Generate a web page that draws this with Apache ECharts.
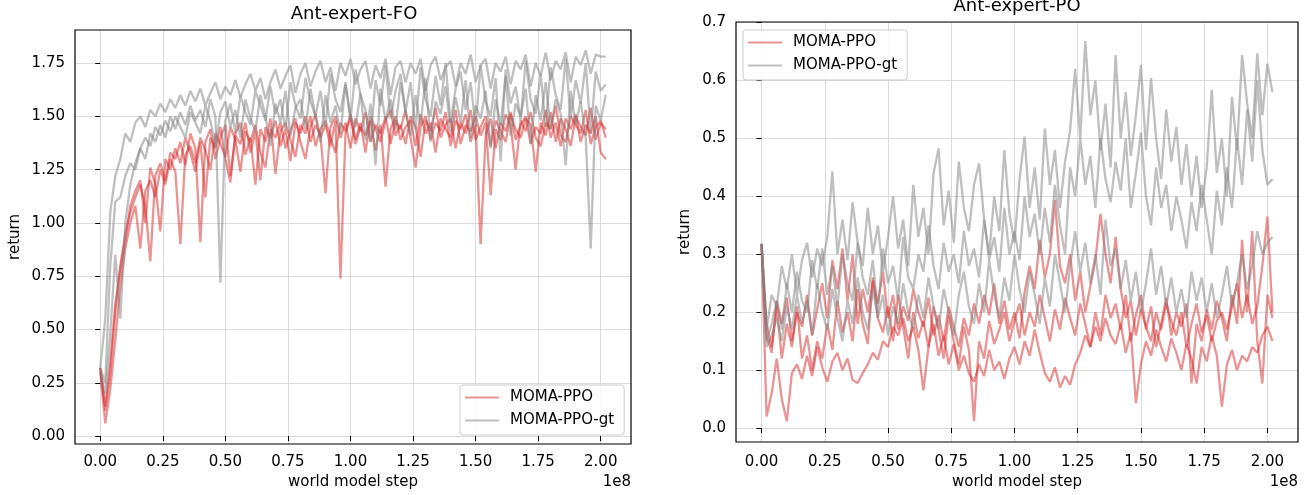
<!DOCTYPE html>
<html>
<head>
<meta charset="utf-8">
<script src="https://cdn.jsdelivr.net/npm/echarts@6/dist/echarts.min.js"></script>
<style>
html,body{margin:0;padding:0;background:#fff;}
#c{width:1309px;height:495px;}
</style>
</head>
<body>
<div id="c"></div>
<script>
// world model step, in millions
const STEPS_M = [0,2,4,6,8,10,12,14,16,18,
 20,22,24,26,28,30,32,34,36,38,
 40,42,44,46,48,50,52,54,56,58,
 60,62,64,66,68,70,72,74,76,78,
 80,82,84,86,88,90,92,94,96,98,
 100,102,104,106,108,110,112,114,116,118,
 120,122,124,126,128,130,132,134,136,138,
 140,142,144,146,148,150,152,154,156,158,
 160,162,164,166,168,170,172,174,176,178,
 180,182,184,186,188,190,192,194,196,198,
 200,202];

const X_TICKS_1E8 = [0,0.25,0.5,0.75,1,1.25,1.5,1.75,2];
const Y_TICKS_FO = [0,0.25,0.5,0.75,1,1.25,1.5,1.75];
const Y_TICKS_PO = [0,0.1,0.2,0.3,0.4,0.5,0.6,0.7];

// ---- Ant-expert-FO ----
const FO_PPO_1 = [0.32,0.12,0.30,0.58,0.80,0.95,1.05,1.12,1.18,1.08,
 0.82,1.22,1.28,1.20,1.33,1.30,1.38,1.27,1.42,1.35,
 0.91,1.38,1.44,1.30,1.40,1.46,1.22,1.41,1.37,1.47,
 1.33,1.43,1.20,1.45,1.40,1.48,1.36,1.44,1.29,1.47,
 1.42,1.50,1.38,1.46,1.41,1.14,1.45,1.50,1.40,1.47,
 1.35,1.49,1.43,1.52,1.38,1.46,1.42,1.50,1.37,1.48,
 1.44,1.53,1.40,1.26,1.45,1.50,1.39,1.47,1.43,1.52,
 1.36,1.48,1.44,1.51,1.38,1.46,0.90,1.41,1.49,1.35,
 1.47,1.43,1.52,1.39,1.46,1.50,1.37,1.45,1.42,1.53,
 1.40,1.47,1.36,1.49,1.44,1.51,1.38,1.46,1.42,1.50,
 1.33,1.30];
const FO_PPO_2 = [0.30,0.06,0.22,0.45,0.70,0.88,1.00,1.08,0.88,1.15,
 1.20,1.12,1.25,1.18,1.30,1.24,0.90,1.32,1.36,1.28,
 1.40,1.34,1.25,1.42,1.37,1.31,1.45,1.39,1.24,1.43,
 1.38,1.46,1.33,1.26,1.44,1.40,1.47,1.35,1.43,1.49,
 1.38,1.30,1.45,1.51,1.40,1.46,1.36,1.48,0.74,1.42,
 1.49,1.39,1.47,1.33,1.50,1.44,1.38,1.48,1.53,1.41,
 1.46,1.37,1.50,1.45,1.31,1.48,1.43,1.54,1.40,1.46,
 1.49,1.35,1.47,1.42,1.53,1.39,1.45,1.50,1.36,1.48,
 1.43,1.38,1.51,1.44,1.40,1.49,1.46,1.24,1.47,1.41,
 1.52,1.38,1.49,1.44,1.36,1.50,1.45,1.41,1.54,1.39,
 1.47,1.44];
const FO_PPO_3 = [0.32,0.14,0.35,0.62,0.78,0.92,1.08,1.15,1.20,1.00,
 1.26,1.18,0.96,1.30,1.25,1.35,1.28,1.40,1.33,1.24,
 1.38,1.12,1.40,1.35,1.45,1.30,1.19,1.42,1.47,1.32,
 1.40,1.18,1.44,1.38,1.49,1.23,1.43,1.47,1.39,1.31,
 1.46,1.42,1.50,1.36,1.44,1.48,1.40,1.33,1.47,1.43,
 1.51,1.37,1.45,1.41,1.48,1.34,1.46,1.17,1.44,1.50,
 1.39,1.45,1.48,1.36,1.51,1.42,1.47,1.33,1.49,1.44,
 1.40,1.53,1.37,1.46,1.43,1.50,1.41,1.47,1.13,1.44,
 1.39,1.51,1.46,1.25,1.48,1.43,1.52,1.40,1.36,1.47,
 1.44,1.55,1.41,1.38,1.50,1.46,1.42,1.53,1.37,1.45,
 1.48,1.40];
const FO_GT_1 = [0.32,0.55,1.05,1.22,1.30,1.42,1.38,1.47,1.50,1.45,
 1.53,1.50,1.56,1.52,1.58,1.54,1.60,1.55,1.62,1.57,
 1.63,1.55,1.61,1.66,1.58,1.64,1.60,1.67,1.59,1.65,
 1.70,1.62,1.68,1.58,1.66,1.72,1.63,1.69,1.74,1.61,
 1.70,1.75,1.64,1.71,1.76,1.66,1.73,1.62,1.75,1.69,
 1.77,1.65,1.72,1.76,1.63,1.74,1.68,1.77,1.60,1.73,
 1.76,1.66,1.75,1.70,1.77,1.62,1.74,1.78,1.67,1.73,
 1.76,1.64,1.75,1.70,1.79,1.66,1.74,1.77,1.63,1.75,
 1.71,1.78,1.65,1.76,1.72,1.79,1.64,1.75,1.69,1.80,
 1.67,1.76,1.72,1.80,1.66,1.78,1.74,1.81,1.70,1.79,
 1.78,1.78];
const FO_GT_2 = [0.30,0.20,0.48,0.85,0.55,1.00,1.18,1.28,1.35,1.30,
 1.42,1.38,1.46,1.40,1.50,1.44,1.52,1.46,1.55,1.48,
 1.53,1.45,1.58,1.50,0.72,1.48,1.56,1.42,1.60,1.52,
 1.46,1.62,1.55,1.48,1.64,1.51,1.58,1.44,1.66,1.55,
 1.49,1.68,1.57,1.50,1.62,1.45,1.70,1.58,1.52,1.66,
 1.48,1.72,1.60,1.53,1.38,1.67,1.55,1.74,1.49,1.62,
 1.70,1.52,1.66,1.44,1.73,1.58,1.50,1.69,1.55,1.75,
 1.47,1.63,1.71,1.53,1.66,1.45,1.74,1.57,1.50,1.68,
 1.29,1.72,1.56,1.64,1.48,1.76,1.58,1.51,1.70,1.45,
 1.73,1.60,1.53,1.77,1.49,1.67,1.56,1.75,1.42,1.71,
 1.62,1.65];
const FO_GT_3 = [0.32,0.25,0.80,1.10,1.12,1.22,1.28,1.25,1.35,1.40,
 1.36,1.45,1.41,1.48,1.43,1.50,1.45,1.40,1.52,1.47,
 1.42,1.55,1.48,1.36,1.52,1.57,1.45,1.53,1.40,1.58,
 1.49,1.43,1.60,1.50,1.36,1.56,1.47,1.62,1.41,1.54,
 1.58,1.44,1.63,1.50,1.38,1.60,1.47,1.55,1.42,1.65,
 1.50,1.45,1.61,1.39,1.56,1.27,1.63,1.48,1.58,1.44,
 1.66,1.52,1.41,1.60,1.46,1.68,1.38,1.57,1.51,1.64,
 1.43,1.59,1.47,1.67,1.40,1.55,1.49,1.62,1.35,1.58,
 1.46,1.69,1.41,1.56,1.50,1.63,1.37,1.60,1.48,1.66,
 1.44,1.58,1.51,1.27,1.62,1.46,1.57,1.40,0.88,1.55,
 1.48,1.60];

// ---- Ant-expert-PO ----
const PO_PPO_1 = [0.318,0.020,0.060,0.120,0.050,0.012,0.095,0.110,0.085,0.125,
 0.090,0.140,0.105,0.080,0.115,0.130,0.100,0.120,0.083,0.078,
 0.095,0.110,0.130,0.118,0.150,0.140,0.175,0.160,0.190,0.150,
 0.175,0.135,0.065,0.140,0.180,0.125,0.160,0.110,0.145,0.100,
 0.125,0.095,0.080,0.110,0.090,0.135,0.100,0.115,0.085,0.120,
 0.140,0.110,0.150,0.125,0.170,0.130,0.095,0.080,0.105,0.070,
 0.090,0.075,0.110,0.130,0.160,0.140,0.175,0.150,0.190,0.160,
 0.145,0.180,0.130,0.165,0.043,0.110,0.150,0.125,0.170,0.140,
 0.115,0.155,0.130,0.100,0.145,0.120,0.077,0.140,0.115,0.160,
 0.125,0.037,0.110,0.135,0.100,0.125,0.115,0.140,0.130,0.160,
 0.175,0.150];
const PO_PPO_2 = [0.318,0.160,0.130,0.220,0.180,0.225,0.150,0.200,0.175,0.230,
 0.160,0.205,0.250,0.190,0.290,0.240,0.310,0.220,0.300,0.180,
 0.240,0.200,0.255,0.215,0.270,0.190,0.230,0.170,0.210,0.185,
 0.240,0.200,0.175,0.225,0.160,0.195,0.150,0.210,0.175,0.140,
 0.190,0.160,0.215,0.180,0.230,0.195,0.250,0.180,0.220,0.170,
 0.200,0.155,0.235,0.280,0.240,0.325,0.260,0.300,0.394,0.280,
 0.250,0.300,0.220,0.270,0.200,0.245,0.290,0.370,0.300,0.250,
 0.330,0.240,0.190,0.220,0.160,0.205,0.175,0.150,0.200,0.170,
 0.215,0.185,0.160,0.200,0.140,0.180,0.215,0.165,0.195,0.150,
 0.185,0.200,0.170,0.210,0.250,0.190,0.230,0.180,0.210,0.280,
 0.365,0.200];
const PO_PPO_3 = [0.318,0.180,0.140,0.210,0.120,0.180,0.140,0.210,0.120,0.160,
 0.100,0.150,0.120,0.180,0.135,0.220,0.165,0.200,0.150,0.240,
 0.180,0.145,0.260,0.190,0.165,0.210,0.150,0.230,0.175,0.120,
 0.200,0.155,0.185,0.140,0.210,0.170,0.120,0.195,0.150,0.110,
 0.175,0.135,0.012,0.150,0.120,0.185,0.145,0.170,0.200,0.150,
 0.185,0.215,0.160,0.200,0.175,0.230,0.190,0.150,0.205,0.170,
 0.225,0.190,0.160,0.215,0.180,0.140,0.200,0.160,0.230,0.190,
 0.215,0.170,0.230,0.150,0.195,0.230,0.170,0.210,0.140,0.180,
 0.225,0.160,0.200,0.175,0.215,0.077,0.180,0.150,0.205,0.170,
 0.220,0.190,0.150,0.230,0.180,0.325,0.200,0.340,0.150,0.077,
 0.230,0.190];
const PO_GT_1 = [0.318,0.170,0.230,0.210,0.280,0.240,0.300,0.230,0.290,0.320,
 0.260,0.310,0.280,0.330,0.443,0.300,0.360,0.290,0.390,0.320,
 0.280,0.380,0.300,0.350,0.270,0.330,0.400,0.310,0.360,0.280,
 0.420,0.330,0.380,0.300,0.440,0.483,0.350,0.410,0.320,0.460,
 0.380,0.340,0.420,0.457,0.360,0.300,0.400,0.340,0.480,0.370,
 0.320,0.430,0.503,0.380,0.450,0.360,0.517,0.420,0.480,0.380,
 0.460,0.514,0.620,0.500,0.668,0.540,0.600,0.480,0.560,0.450,
 0.644,0.500,0.580,0.470,0.540,0.627,0.480,0.604,0.500,0.430,
 0.550,0.460,0.520,0.420,0.490,0.400,0.470,0.380,0.450,0.584,
 0.440,0.500,0.400,0.572,0.480,0.644,0.560,0.500,0.647,0.540,
 0.629,0.580];
const PO_GT_2 = [0.318,0.150,0.180,0.220,0.170,0.250,0.200,0.270,0.220,0.200,
 0.290,0.240,0.310,0.230,0.280,0.210,0.300,0.250,0.220,0.320,
 0.260,0.230,0.290,0.200,0.310,0.250,0.280,0.220,0.330,0.260,
 0.240,0.300,0.270,0.350,0.280,0.240,0.320,0.270,0.300,0.250,
 0.340,0.280,0.310,0.260,0.360,0.290,0.330,0.270,0.380,0.300,
 0.340,0.290,0.400,0.330,0.370,0.300,0.380,0.320,0.420,0.350,
 0.300,0.450,0.400,0.500,0.420,0.470,0.380,0.500,0.430,0.390,
 0.460,0.410,0.500,0.380,0.440,0.510,0.400,0.350,0.450,0.380,
 0.420,0.340,0.400,0.360,0.310,0.390,0.340,0.420,0.360,0.300,
 0.410,0.350,0.450,0.380,0.500,0.420,0.550,0.460,0.600,0.480,
 0.420,0.430];
const PO_GT_3 = [0.318,0.140,0.160,0.190,0.150,0.210,0.170,0.230,0.180,0.220,
 0.160,0.250,0.200,0.170,0.240,0.190,0.150,0.220,0.180,0.260,
 0.200,0.170,0.240,0.190,0.230,0.160,0.210,0.180,0.250,0.200,
 0.170,0.230,0.190,0.260,0.210,0.170,0.240,0.200,0.160,0.230,
 0.270,0.210,0.180,0.250,0.200,0.290,0.230,0.190,0.260,0.220,
 0.300,0.240,0.200,0.270,0.230,0.180,0.260,0.210,0.300,0.250,
 0.200,0.280,0.340,0.270,0.320,0.250,0.300,0.230,0.360,0.280,
 0.310,0.240,0.290,0.220,0.270,0.200,0.250,0.310,0.230,0.280,
 0.210,0.260,0.200,0.240,0.190,0.270,0.220,0.260,0.200,0.250,
 0.190,0.230,0.280,0.210,0.250,0.300,0.240,0.280,0.340,0.300,
 0.320,0.330];

const FONT = '"DejaVu Sans", sans-serif';
const RED = 'rgba(214,39,40,0.5)';
const GRAY = 'rgba(128,128,128,0.5)';
const NAME_PPO = 'MOMA-PPO';
const NAME_GT = 'MOMA-PPO-gt';

function pts(arr){ return STEPS_M.map((s,i)=>[s*1e6, arr[i]]); }
function line(name, color, arr, idx){
  return {type:'line', name:name, xAxisIndex:idx, yAxisIndex:idx, data:pts(arr),
    symbol:'none', showSymbol:false, silent:true, animation:false,
    lineStyle:{color:color, width:2.3}, itemStyle:{color:color}, emphasis:{disabled:true}};
}
function xAx(idx, min, max, margin, gap){
  const vals = X_TICKS_1E8.map(v=>v*1e8);
  return {gridIndex:idx, type:'value', min:min, max:max,
    axisLine:{show:false},
    axisTick:{show:true, length:5, lineStyle:{color:'#000', width:1}, customValues:vals},
    axisLabel:{customValues:vals, formatter:v=>(v/1e8).toFixed(2), margin:margin, fontSize:15, color:'#000', fontFamily:FONT},
    splitLine:{show:true, lineStyle:{color:'#dcdcdc', width:1}},
    name:'world model step', nameLocation:'middle', nameGap:gap,
    nameTextStyle:{fontSize:15, color:'#000', fontFamily:FONT}};
}
function yAx(idx, min, max, ticks, dec, gap){
  return {gridIndex:idx, type:'value', min:min, max:max,
    axisLine:{show:false},
    axisTick:{show:true, length:5, lineStyle:{color:'#000', width:1}, customValues:ticks},
    axisLabel:{customValues:ticks, formatter:v=>v.toFixed(dec), margin:10, fontSize:15, color:'#000', fontFamily:FONT},
    splitLine:{show:true, lineStyle:{color:'#dcdcdc', width:1}},
    name:'return', nameLocation:'middle', nameGap:gap,
    nameTextStyle:{fontSize:15, color:'#000', fontFamily:FONT}};
}
function legend(left, top){
  return {left:left, top:top, orient:'vertical',
    data:[{name:NAME_PPO, icon:'rect'}, {name:NAME_GT, icon:'rect'}],
    itemWidth:34, itemHeight:2, itemGap:6, padding:[4,10,6,5],
    backgroundColor:'rgba(255,255,255,0.8)', borderColor:'#cccccc', borderWidth:1, borderRadius:3,
    selectedMode:false, z:5,
    textStyle:{fontSize:15, color:'#000', fontFamily:FONT, padding:[0,0,0,6], lineHeight:17}};
}
function frame(x, y, w, h){
  return {type:'rect', silent:true, z:10,
    shape:{x:x, y:y, width:w, height:h},
    style:{fill:null, stroke:'#000', lineWidth:1.2}};
}

const chart = echarts.init(document.getElementById('c'), null, {renderer:'canvas'});
chart.setOption({
  animation:false,
  backgroundColor:'#fff',
  grid:[
    {left:75, top:30, width:556, height:414, show:false},
    {left:736, top:22, width:562, height:420, show:false}
  ],
  xAxis:[ xAx(0, -10.1e6, 212.1e6, 11, 27), xAx(1, -10.1e6, 212.1e6, 13, 29) ],
  yAxis:[ yAx(0, -0.037, 1.905, Y_TICKS_FO, 2, 52), yAx(1, -0.024, 0.701, Y_TICKS_PO, 1, 43) ],
  legend:[ legend(460, 385), legend(743, 30) ],
  graphic:[
    frame(75, 30, 556, 414),
    frame(736, 22, 562, 420),
    {type:'text', x:354, y:14, silent:true, style:{text:'Ant-expert-FO', font:'18px "DejaVu Sans"', fill:'#000', textAlign:'center', textVerticalAlign:'middle', align:'center', verticalAlign:'middle'}},
    {type:'text', x:1017, y:6, silent:true, style:{text:'Ant-expert-PO', font:'18px "DejaVu Sans"', fill:'#000', textAlign:'center', textVerticalAlign:'middle', align:'center', verticalAlign:'middle'}},
    {type:'text', x:631, y:482, silent:true, style:{text:'1e8', font:'15px "DejaVu Sans"', fill:'#000', textAlign:'right', textVerticalAlign:'middle', align:'right', verticalAlign:'middle'}},
    {type:'text', x:1298, y:482, silent:true, style:{text:'1e8', font:'15px "DejaVu Sans"', fill:'#000', textAlign:'right', textVerticalAlign:'middle', align:'right', verticalAlign:'middle'}}
  ],
  series:[
    line(NAME_PPO, RED, FO_PPO_1, 0),
    line(NAME_PPO, RED, FO_PPO_2, 0),
    line(NAME_PPO, RED, FO_PPO_3, 0),
    line(NAME_GT, GRAY, FO_GT_1, 0),
    line(NAME_GT, GRAY, FO_GT_2, 0),
    line(NAME_GT, GRAY, FO_GT_3, 0),
    line(NAME_PPO, RED, PO_PPO_1, 1),
    line(NAME_PPO, RED, PO_PPO_2, 1),
    line(NAME_PPO, RED, PO_PPO_3, 1),
    line(NAME_GT, GRAY, PO_GT_1, 1),
    line(NAME_GT, GRAY, PO_GT_2, 1),
    line(NAME_GT, GRAY, PO_GT_3, 1)
  ]
});
</script>
</body>
</html>
